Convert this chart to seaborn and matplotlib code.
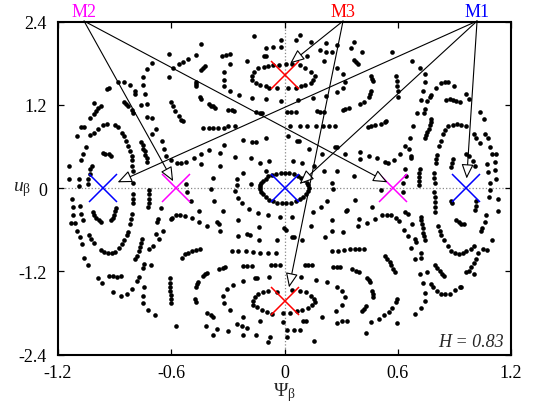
import pandas as pd
import seaborn as sns
import matplotlib
matplotlib.use('Agg')
import matplotlib.pyplot as plt

# Poincare section dots (psi_beta, u_beta)
dots_upper_far_left = [
    (-0.61,1.93),(-0.70,1.81),(-0.73,1.72),(-0.75,1.61),(-0.75,1.49),(-0.74,1.36),(-0.76,1.20),(-0.73,1.21),
    (-0.73,1.03),(-0.70,1.01),(-0.68,0.85),(-0.70,0.78),(-0.65,0.68),(-0.64,0.56),(-0.63,0.47),(-0.60,0.40),(-0.60,1.24),
    (-0.94,1.43),(-0.93,1.45),(-0.88,1.53),(-0.85,1.53),(-0.82,1.49),(-0.79,1.40),(-0.79,1.36),
    (-0.85,1.25),(-0.84,1.21),(-0.83,1.18),(-0.81,1.13),(-0.80,1.09),
    (-1.01,1.23),(-0.97,1.18),(-0.99,1.15),(-1.00,1.12),(-1.01,1.07),(-1.03,1.01),(-1.06,0.88),(-1.08,0.88),
    (-1.10,0.75),(-1.05,0.59),(-1.07,0.49),(-1.08,0.40),(-1.14,0.32),(-1.14,0.14),(-1.09,0.14),(-1.09,0.03),
    (-1.03,0.76),(-1.01,0.80),(-0.99,0.85),(-0.96,0.91),(-0.94,0.92),(-0.90,0.91),(-0.88,0.88),(-0.86,0.80),
    (-0.85,0.75),(-0.84,0.68),(-0.83,0.61),(-0.82,0.53),(-0.81,0.46),(-0.81,0.40),(-0.81,0.32),(-0.80,0.25),(-0.80,0.08),
    (-0.76,0.67),(-0.75,0.62),(-0.75,0.57),(-0.74,0.53),(-0.74,0.48),(-0.73,0.43),(-0.73,0.38),
    (-0.96,0.51),(-0.95,0.50),(-0.93,0.49),(-0.92,0.46),
    (-1.02,0.32),(-1.03,0.27),(-1.03,0.20),(-1.04,0.13),(-1.04,0.06),
]
dots_upper_mid_left = [
    (-0.16,2.20),(-0.44,2.08),(-0.02,2.13),(-0.10,2.02),(-0.06,2.03),(-0.02,2.03),
    (-0.54,1.82),(-0.56,1.79),(-0.51,1.87),(-0.47,1.92),(-0.59,1.73),(-0.61,1.60),
    (-0.44,1.71),(-0.43,1.73),(-0.42,1.76),
    (-0.33,1.90),(-0.31,1.92),(-0.29,1.94),(-0.20,1.84),(-0.11,1.90),(-0.10,1.91),
    (-0.29,1.79),(-0.32,1.67),(-0.32,1.56),(-0.32,1.48),(-0.29,1.40),(-0.24,1.34),(-0.17,1.30),(-0.10,1.28),(-0.02,1.26),
    (-0.14,1.73),(-0.11,1.75),(-0.09,1.76),(-0.16,1.68),(-0.17,1.62),(-0.17,1.56),(-0.15,1.52),(-0.13,1.49),
    (-0.10,1.47),(-0.08,1.45),(-0.04,1.44),(-0.06,1.77),(-0.03,1.78),
    (-0.47,1.53),(-0.47,1.50),(-0.47,1.48),
    (-0.45,1.32),(-0.44,1.28),
    (-0.40,1.21),(-0.39,1.19),(-0.38,1.18),(-0.37,1.16),
    (-0.30,1.13),(-0.28,1.13),(-0.27,1.12),
    (-0.15,1.10),(-0.13,1.09),(-0.12,1.09),
    (-0.59,1.18),(-0.58,1.12),(-0.56,1.04),(-0.55,0.99),(-0.54,0.97),
    (-0.43,0.875),(-0.40,0.875),(-0.38,0.875),(-0.35,0.875),(-0.32,0.875),(-0.30,0.89),(-0.26,0.90),
    (-0.22,0.70),(-0.10,0.73),(-0.17,0.66),(-0.15,0.67),
    (-0.32,0.62),(-0.40,0.55),(-0.34,0.51),(-0.44,0.49),(-0.48,0.43),(-0.52,0.38),(-0.55,0.37),(-0.57,0.37),
    (-0.26,0.45),(-0.18,0.43),(-0.08,0.39),(-0.13,0.36),(-0.44,0.35),(-0.34,0.32),(-0.10,0.25),(-0.22,0.22),
    (-0.25,0.14),(-0.38,0.15),(-0.18,0.06),(-0.25,0.05),(-0.52,0.06),
]
dots_upper_mid_right = [
    (0.08,2.21),(0.06,2.13),(0.14,2.11),(0.22,2.09),(0.37,2.11),(0.19,1.99),(0.22,1.97),(0.25,1.96),(0.28,2.06),
    (0.35,2.02),(0.41,1.97),(0.57,1.97),(0.21,1.84),(0.12,1.90),
    (0.01,1.79),(0.04,1.79),(0.08,1.77),(0.11,1.73),(0.14,1.68),(0.16,1.62),(0.15,1.56),(0.14,1.52),(0.11,1.49),
    (0.085,1.47),(0.06,1.45),(0.02,1.44),
    (0.37,1.85),(0.38,1.82),(0.39,1.79),
    (0.28,1.74),(0.31,1.64),(0.32,1.53),(0.31,1.45),(0.28,1.39),(0.22,1.33),(0.15,1.30),(0.07,1.27),
    (0.46,1.62),(0.465,1.58),(0.47,1.54),
    (0.46,1.40),(0.455,1.36),(0.45,1.32),
    (0.42,1.25),(0.40,1.21),
    (0.59,1.62),(0.594,1.55),(0.598,1.48),(0.60,1.40),(0.60,1.32),
    (0.31,1.13),(0.32,1.14),(0.34,1.15),
    (0.015,1.10),(0.036,1.10),(0.059,1.10),
    (0.17,1.12),(0.19,1.10),(0.21,1.10),
    (0.03,0.90),(0.08,0.90),(0.12,0.90),(0.165,0.90),(0.205,0.90),(0.235,0.90),(0.27,0.90),
    (0.44,0.88),(0.46,0.89),(0.48,0.91),(0.51,0.92),(0.53,0.95),(0.54,0.97),
    (0.02,0.75),(0.068,0.68),(0.077,0.68),(0.13,0.57),(0.20,0.50),(0.27,0.59),(0.28,0.59),(0.32,0.49),(0.40,0.52),
    (0.40,0.42),(0.45,0.47),(0.49,0.43),(0.53,0.38),(0.55,0.37),(0.58,0.40),(0.61,0.49),
    (0.046,0.39),(0.094,0.37),(0.156,0.32),(0.21,0.25),(0.28,0.25),(0.37,0.18),(0.25,0.08),
]
dots_upper_far_right = [
    (0.675,1.84),(0.716,1.74),(0.742,1.64),(0.746,1.53),(0.733,1.40),(0.721,1.27),(0.703,1.08),(0.68,0.89),
    (0.663,0.72),(0.636,0.61),
    (0.80,1.44),(0.827,1.52),(0.848,1.53),(0.866,1.53),(0.90,1.48),(0.963,1.36),(0.98,1.28),(1.034,1.10),(1.057,1.00),
    (1.064,0.78),(1.078,0.72),(1.087,0.60),(1.10,0.49),(1.122,0.49),(1.113,0.38),(1.075,0.35),(1.117,0.26),(1.08,0.24),
    (1.087,0.08),(1.122,0.14),
    (0.77,1.31),(0.774,1.34),(0.756,1.26),(0.742,1.14),(0.739,1.09),
    (0.857,1.27),(0.875,1.28),(0.892,1.27),(0.91,1.26),(0.928,1.25),
    (0.778,1.00),(0.774,0.96),(0.769,0.91),(0.764,0.86),(0.756,0.81),(0.751,0.76),(0.746,0.72),
    (0.893,0.91),(0.916,0.92),(0.937,0.91),(0.963,0.89),(0.866,0.89),(0.852,0.84),(0.84,0.78),(0.827,0.68),
    (0.82,0.61),(0.81,0.48),(0.804,0.42),(0.80,0.36),
    (1.004,0.78),(1.016,0.72),(1.034,0.65),
    (0.658,0.56),(0.668,0.47),(0.672,0.43),
    (0.64,0.28),(0.645,0.18),(0.63,0.08),
    (0.716,0.27),(0.714,0.22),(0.712,0.16),(0.71,0.10),(0.71,0.04),
    (0.792,0.22),(0.792,0.15),(0.795,0.08),
    (0.893,0.42),(0.887,0.36),(0.884,0.30),
    (0.963,0.49),(0.98,0.46),(0.998,0.39),(1.007,0.32),
]
dots_lower_far_left = [
    (-1.126,-0.15),(-1.123,-0.27),(-1.084,-0.26),(-1.119,-0.39),(-1.079,-0.37),(-1.07,-0.46),(-1.13,-0.50),
    (-1.108,-0.50),(-1.10,-0.61),(-1.084,-0.70),(-1.073,-0.80),(-1.06,-1.00),(-1.043,-1.11),
    (-1.017,-0.34),(-1.008,-0.39),(-0.999,-0.43),(-0.985,-0.46),(-0.973,-0.49),
    (-0.893,-0.28),(-0.898,-0.33),(-0.905,-0.38),(-0.911,-0.43),(-0.92,-0.46),
    (-1.038,-0.67),(-1.025,-0.73),(-1.008,-0.79),
    (-0.973,-0.89),(-0.955,-0.92),(-0.937,-0.94),(-0.914,-0.94),(-0.896,-0.92),(-0.875,-0.86),(-0.861,-0.81),
    (-0.849,-0.75),(-0.836,-0.68),(-0.831,-0.63),(-0.819,-0.51),(-0.813,-0.44),(-0.808,-0.37),(-0.801,-0.21),
    (-0.801,-0.15),(-0.801,-0.09),
    (-0.99,-1.30),(-0.967,-1.37),
    (-0.932,-1.26),(-0.911,-1.27),(-0.89,-1.28),(-0.867,-1.27),
    (-0.911,-1.50),(-0.867,-1.55),(-0.836,-1.53),(-0.808,-1.46),
    (-0.783,-1.34),(-0.773,-1.28),(-0.748,-1.15),(-0.743,-1.09),
    (-0.755,-0.73),(-0.761,-0.79),(-0.766,-0.85),(-0.773,-0.91),(-0.782,-0.97),(-0.79,-1.02),
    (-0.716,-0.03),(-0.718,-0.09),(-0.72,-0.15),(-0.72,-0.21),(-0.723,-0.27),
    (-0.72,-0.87),(-0.707,-1.10),
    (-0.743,-1.42),(-0.752,-1.55),(-0.752,-1.66),(-0.725,-1.76),(-0.685,-1.83),
    (-0.654,-0.28),(-0.672,-0.44),(-0.677,-0.49),(-0.681,-0.66),(-0.695,-0.84),(-0.646,-0.61),(-0.663,-0.73),(-0.601,-0.44),
    (-0.605,-1.30),(-0.607,-1.36),(-0.607,-1.42),(-0.605,-1.48),(-0.603,-1.54),(-0.601,-1.60),(-0.599,-1.66),
]
dots_lower_mid_left = [
    (-0.515,-0.06),(-0.497,-0.19),(-0.391,-0.01),(-0.262,-0.04),(-0.245,-0.14),(-0.227,-0.22),(-0.374,-0.19),
    (-0.451,-0.33),(-0.328,-0.33),(-0.187,-0.30),(-0.139,-0.36),(-0.086,-0.39),(-0.024,-0.42),
    (-0.598,-0.43),(-0.575,-0.39),(-0.554,-0.38),(-0.527,-0.40),(-0.492,-0.43),
    (-0.451,-0.48),(-0.413,-0.54),(-0.36,-0.49),(-0.346,-0.52),(-0.342,-0.61),(-0.248,-0.46),(-0.134,-0.56),
    (-0.197,-0.66),(-0.183,-0.67),(-0.245,-0.69),(-0.134,-0.74),(-0.038,-0.75),(-0.003,-0.58),
    (-0.545,-1.00),(-0.527,-0.95),(-0.51,-0.93),(-0.492,-0.91),(-0.469,-0.89),(-0.448,-0.88),
    (-0.28,-0.90),(-0.245,-0.91),(-0.204,-0.91),(-0.169,-0.92),(-0.13,-0.93),(-0.086,-0.93),(-0.045,-0.93),
    (-0.218,-1.12),(-0.197,-1.12),(-0.174,-1.12),(-0.073,-1.10),(-0.05,-1.10),(-0.024,-1.10),
    (-0.346,-1.16),(-0.328,-1.15),(-0.316,-1.14),
    (-0.43,-1.27),(-0.421,-1.24),(-0.409,-1.22),
    (-0.157,-1.30),(-0.144,-1.30),(-0.08,-1.28),
    (-0.469,-1.42),(-0.466,-1.38),(-0.457,-1.35),
    (-0.275,-1.40),(-0.307,-1.46),(-0.324,-1.56),(-0.321,-1.66),(-0.289,-1.75),(-0.222,-1.85),(-0.222,-1.34),
    (-0.086,-1.48),(-0.112,-1.50),(-0.139,-1.53),(-0.157,-1.57),(-0.169,-1.62),(-0.165,-1.68),(-0.148,-1.71),
    (-0.121,-1.75),(-0.095,-1.79),(-0.068,-1.82),(-0.04,-1.50),
    (-0.474,-1.59),(-0.469,-1.64),
    (-0.409,-1.80),(-0.391,-1.83),(-0.377,-1.85),
    (-0.575,-1.98),(-0.416,-1.99),(-0.36,-2.03),(-0.298,-2.06),(-0.254,-1.96),(-0.227,-1.99),(-0.197,-2.01),
    (-0.222,-2.11),(-0.151,-2.12),(-0.13,-1.91),(-0.077,-2.14),(-0.086,-2.22),(-0.377,-2.12),(-0.006,-1.80),(-0.01,-1.93),
]
dots_lower_mid_right = [
    (0.258,-0.01),(0.513,-0.02),(0.372,-0.17),(0.227,-0.19),(0.195,-0.27),(0.152,-0.34),(0.33,-0.31),(0.324,-0.33),
    (0.465,-0.27),(0.394,-0.44),(0.389,-0.55),(0.435,-0.50),(0.478,-0.44),(0.518,-0.39),(0.545,-0.38),(0.566,-0.39),
    (0.589,-0.43),(0.607,-0.47),(0.041,-0.42),(0.253,-0.46),(0.138,-0.55),(0.006,-0.60),(0.253,-0.61),(0.312,-0.63),
    (0.213,-0.70),(0.04,-0.70),(0.05,-0.70),(0.094,-0.74),
    (0.253,-0.91),(0.283,-0.90),(0.315,-0.89),(0.347,-0.88),(0.372,-0.88),(0.394,-0.88),(0.42,-0.88),
    (0.53,-0.98),(0.545,-1.02),(0.559,-1.06),(0.566,-1.11),(0.577,-1.16),(0.584,-1.21),
    (0.107,-1.11),(0.124,-1.11),(0.147,-1.11),(0.258,-1.14),(0.276,-1.14),(0.294,-1.14),
    (0.359,-1.16),(0.377,-1.19),(0.394,-1.21),
    (0.165,-1.32),(0.223,-1.35),(0.276,-1.42),(0.306,-1.48),(0.319,-1.57),(0.306,-1.68),(0.271,-1.77),(0.200,-1.86),
    (0.306,-1.91),(0.33,-1.92),(0.28,-1.95),
    (0.439,-1.29),(0.448,-1.33),(0.453,-1.35),
    (0.465,-1.48),(0.467,-1.53),(0.469,-1.57),
    (0.412,-1.77),(0.421,-1.74),(0.43,-1.70),
    (0.46,-1.93),(0.50,-1.88),(0.527,-1.83),(0.554,-1.79),(0.571,-1.72),(0.589,-1.64),(0.594,-1.59),
    (0.43,-2.09),(0.156,-2.20),(0.597,-1.94),
    (0.082,-1.48),(0.112,-1.50),(0.138,-1.55),(0.156,-1.59),(0.16,-1.64),(0.147,-1.69),(0.124,-1.72),(0.094,-1.76),
    (0.064,-1.77),(0.03,-1.80),(0.04,-1.47),
    (0.085,-1.28),(0.015,-2.05),(0.05,-2.05),(0.082,-2.05),(0.10,-1.91),(0.112,-1.91),(0.015,-2.15),
]
dots_lower_far_right = [
    (0.628,-0.06),(0.64,-0.34),(0.654,-0.37),(0.675,-0.52),(0.633,-0.60),(0.654,-0.69),(0.693,-0.73),(0.698,-0.78),
    (0.672,-0.86),(0.721,-0.94),(0.725,-1.00),(0.693,-1.02),(0.756,-1.21),(0.716,-1.24),(0.733,-1.37),(0.742,-1.51),
    (0.746,-1.63),(0.725,-1.72),(0.693,-1.81),
    (0.721,-0.41),(0.725,-0.46),(0.728,-0.52),(0.732,-0.58),(0.735,-0.64),(0.739,-0.69),(0.742,-0.75),
    (0.792,-0.06),(0.795,-0.13),(0.799,-0.20),(0.799,-0.27),(0.799,-0.34),
    (0.813,-0.55),(0.822,-0.61),(0.831,-0.68),(0.845,-0.75),(0.866,-0.84),(0.884,-0.90),(0.901,-0.94),(0.923,-0.95),
    (0.946,-0.94),(0.963,-0.91),(0.986,-0.87),(1.004,-0.84),
    (0.91,-0.46),(0.922,-0.49),(0.937,-0.51),(0.951,-0.51),
    (0.884,-0.18),(0.887,-0.22),
    (1.016,-0.18),(1.016,-0.25),(1.011,-0.32),
    (1.087,-0.03),(1.082,-0.13),(1.131,-0.15),(1.131,-0.33),(1.069,-0.39),(1.064,-0.49),(1.046,-0.57),(1.039,-0.61),
    (1.099,-0.74),(1.052,-0.87),(1.075,-0.89),(1.025,-0.94),(1.016,-1.02),(1.004,-1.08),(0.99,-1.14),(0.976,-1.19),
    (0.963,-1.21),(1.004,-1.24),
    (0.795,-1.10),(0.809,-1.15),(0.822,-1.19),(0.834,-1.23),(0.845,-1.27),
    (0.778,-1.38),(0.787,-1.42),(0.81,-1.48),(0.827,-1.52),(0.848,-1.53),(0.875,-1.52),(0.905,-1.47),(0.928,-1.43),(0.937,-1.42),
]
dots_center_loop = [
    (-0.13,0.02),(-0.13,0.05),(-0.125,0.08),(-0.115,0.11),(-0.10,0.14),(-0.085,0.17),(-0.065,0.19),(-0.045,0.21),
    (-0.02,0.22),(0.00,0.22),(0.025,0.215),(0.05,0.20),(0.07,0.18),(0.09,0.15),(0.105,0.12),(0.118,0.08),
    (0.125,0.04),(0.128,0.0),(0.125,-0.04),(0.115,-0.08),(0.10,-0.12),(0.08,-0.16),(0.06,-0.19),(0.035,-0.21),
    (0.01,-0.22),(-0.015,-0.22),(-0.04,-0.21),(-0.06,-0.19),(-0.08,-0.17),(-0.10,-0.13),(-0.115,-0.09),
    (-0.125,-0.05),(-0.13,-0.01),
]

# fixed points
m1_psi = [-0.96, 0.0, 0.96]
m1_u = [0.0, 0.0, 0.0]
m2_psi = [-0.575, 0.575]
m2_u = [0.0, 0.0]
m3_psi = [0.0, 0.0]
m3_u = [1.63, -1.63]

# labels and arrow tips
labels = ['M1', 'M2', 'M3']
label_colors = ['#0000ff', '#ff00ff', '#ff0000']
label_psi = [1.02, -1.062, 0.31]
arrow_tips = {
    'M1': [(0.965, 0.14), (0.08, 0.06), (-0.884, 0.085)],
    'M2': [(-0.59, 0.10), (0.545, 0.085)],
    'M3': [(0.03, 1.80), (0.024, -1.43)],
}

all_dots = (dots_upper_far_left + dots_upper_mid_left + dots_upper_mid_right + dots_upper_far_right
            + dots_lower_far_left + dots_lower_mid_left + dots_lower_mid_right + dots_lower_far_right
            + dots_center_loop)
df = pd.DataFrame(all_dots, columns=['psi', 'u'])

sns.set_theme(style='ticks')
plt.rcParams['font.family'] = ['Liberation Serif', 'DejaVu Serif']
plt.rcParams['mathtext.fontset'] = 'custom'
plt.rcParams['mathtext.rm'] = 'Liberation Serif'
plt.rcParams['mathtext.it'] = 'Liberation Serif:italic'

fig, ax = plt.subplots(figsize=(5.36, 4.06), dpi=100)
fig.subplots_adjust(left=0.1082, right=0.9534, top=0.944, bottom=0.1239)

ax.axhline(0, color='#888888', ls=':', lw=0.9, zorder=0)
ax.axvline(0, color='#888888', ls=':', lw=0.9, zorder=0)

sns.scatterplot(data=df, x='psi', y='u', color='black', s=11, linewidth=0, ax=ax, zorder=2)

ax.plot(m1_psi, m1_u, ls='none', marker='x', ms=20, mew=1.1, color='#0000ff', zorder=3)
ax.plot(m2_psi, m2_u, ls='none', marker='x', ms=20, mew=1.1, color='#ff00ff', zorder=3)
ax.plot(m3_psi, m3_u, ls='none', marker='x', ms=20, mew=1.1, color='#ff0000', zorder=3)

for name, col, px in zip(labels, label_colors, label_psi):
    ax.text(px, 2.48, name, color=col, fontsize=13, ha='center', va='baseline', clip_on=False)
    for tip in arrow_tips[name]:
        ax.annotate('', xy=tip, xytext=(px, 2.41), annotation_clip=False,
                    arrowprops=dict(arrowstyle='-|>,head_length=0.4,head_width=0.17', mutation_scale=22,
                                    fc='white', ec='black', lw=0.8, shrinkA=0, shrinkB=0), zorder=4)

ax.text(0.985, 0.015, 'H = 0.83', transform=ax.transAxes, ha='right', va='bottom',
        fontsize=13, fontstyle='italic')

ax.set_xlim(-1.2, 1.2)
ax.set_ylim(-2.4, 2.4)
ax.set_xticks([-1.2, -0.6, 0, 0.6, 1.2])
ax.set_xticklabels(['-1.2', '-0.6', '0', '0.6', '1.2'])
ax.set_yticks([-2.4, -1.2, 0, 1.2, 2.4])
ax.set_yticklabels(['-2.4', '-1.2', '0', '1.2', '2.4'])
ax.tick_params(direction='in', length=4.5, width=0.9, top=True, right=True, labelsize=13, colors='black')
ax.tick_params(axis='x', pad=7)
ax.tick_params(axis='y', pad=8)
for sp in ax.spines.values():
    sp.set_linewidth(1.5)
    sp.set_color('black')

ax.set_xlabel(r'$\mathrm{\Psi}_{\mathrm{\beta}}$', fontsize=14, va='center')
ax.xaxis.set_label_coords(0.5, -0.112)
ax.set_ylabel(r'$u_{\mathrm{\beta}}$', fontsize=14, rotation=0, va='center', ha='center')
ax.yaxis.set_label_coords(-0.08, 0.5)

plt.savefig('out.png', dpi=100)
plt.close()
